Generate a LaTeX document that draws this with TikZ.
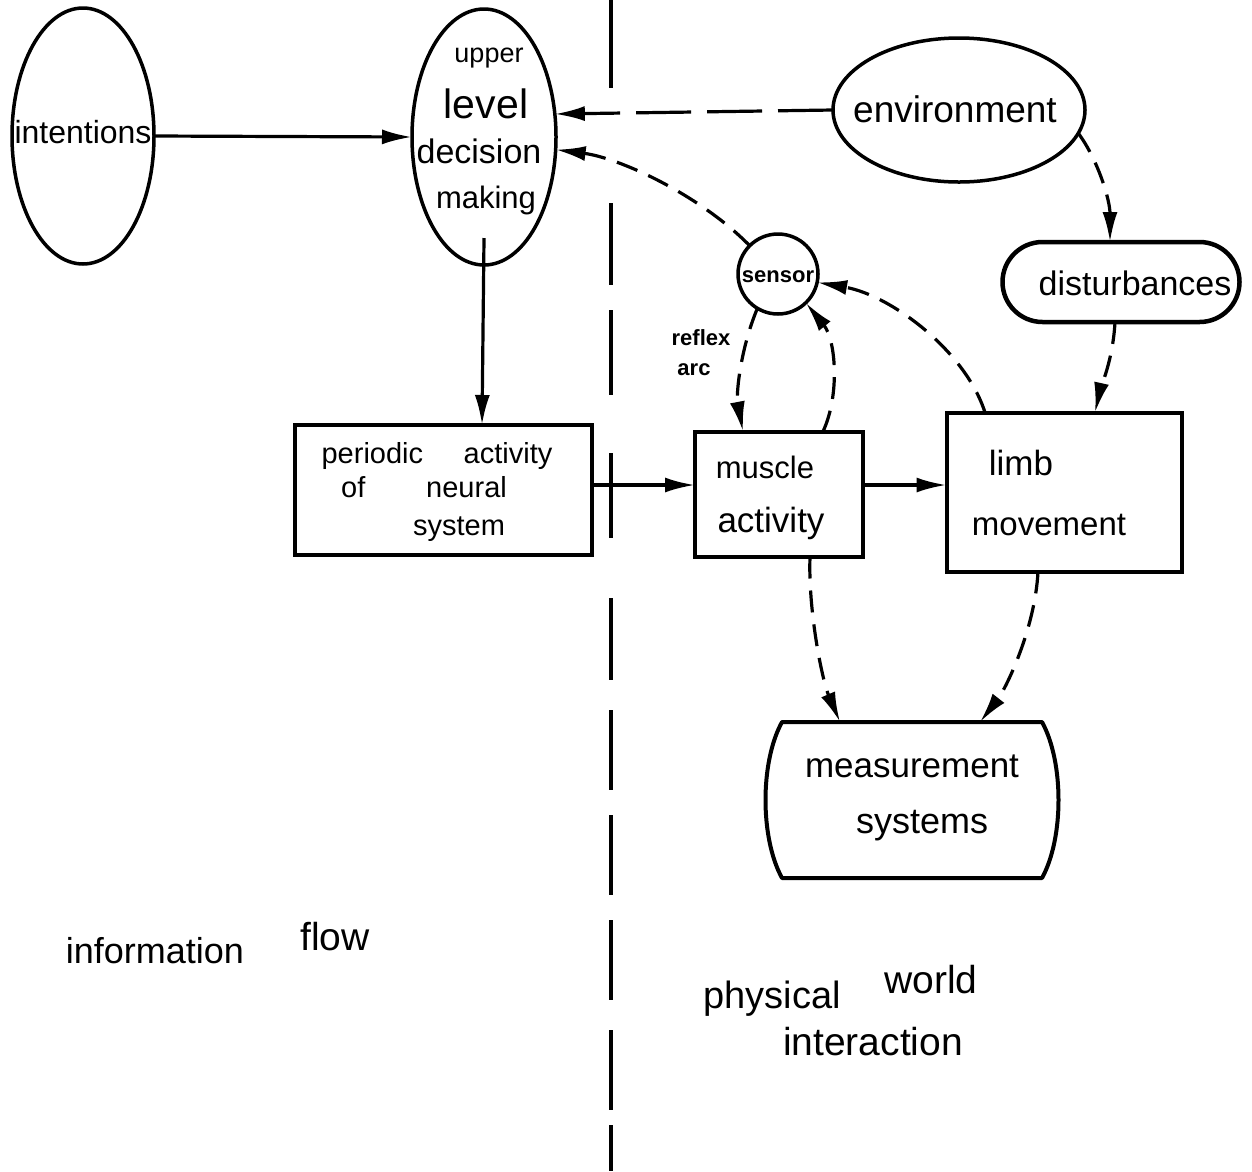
\documentclass[tikz,border=0pt]{standalone}
\usepackage{fontspec}
\setmainfont{Liberation Sans}
\usetikzlibrary{shapes.geometric,arrows.meta}
\begin{document}
\begin{tikzpicture}[x=1pt,y=-1pt,
  every node/.style={inner sep=0pt,outer sep=0pt},
  oval/.style={ellipse,draw,line width=3.5pt},
  boxnode/.style={rectangle,draw,line width=4pt},
  lbl/.style={anchor=base},
  fs/.style={font=\fontsize{#1}{#1}\selectfont},
  fsb/.style={font=\fontsize{#1}{#1}\selectfont\bfseries},
  conn/.style={line width=3.2pt,-{Latex[length=30pt,width=15pt]}},
  dconn/.style={conn,dash pattern=on 22pt off 12pt},
  divider/.style={line width=3.5pt},
]
\useasboundingbox[fill=white] (0,0) rectangle (1252,1171);

% divider
\foreach \a/\b in {0/88,203/285,310/395,453/538,598/680,710/790,815/895,920/1000,1030/1110,1125/1171}
  \draw[divider] (611,\a) -- (611,\b);

% shapes
\node[oval,minimum width=142pt,minimum height=256pt] (int) at (83,136) {};
\node[oval,minimum width=144pt,minimum height=256pt] (upper) at (484,137) {};
\node[oval,minimum width=252pt,minimum height=144pt] (env) at (959,110) {};
\node[circle,draw,line width=3.5pt,minimum size=80pt] (sensor) at (778,274) {};
\node[rectangle,draw,line width=4.5pt,rounded corners=40pt,minimum width=237pt,minimum height=80pt] (dis) at (1121,282) {};
\node[boxnode,minimum width=297pt,minimum height=130pt] (per) at (443,490) {};
\node[boxnode,minimum width=168pt,minimum height=125pt] (mus) at (779,494) {};
\node[boxnode,minimum width=235pt,minimum height=159pt] (limb) at (1064,492) {};
\node[minimum width=260pt,minimum height=156pt] (meas) at (912,800) {};
\draw[line width=4pt,line join=round] (meas.north west) -- (meas.north east)
  .. controls +(22,40) and +(22,-40) .. (meas.south east) -- (meas.south west)
  .. controls +(-22,-40) and +(-22,40) .. (meas.north west) -- cycle;

% texts
\node[lbl,fs=32] (tint) at (83,143) {intentions};
\node[lbl,fs=27] (tup1) at (489,62) {upper};
\node[lbl,fs=41] (tup2) at (486,118) {level};
\node[lbl,fs=34] (tup3) at (479,163) {decision};
\node[lbl,fs=31] (tup4) at (486,208) {making};
\node[lbl,fs=37] (tenv) at (955,122) {environment};
\node[lbl,fs=34] (tdis) at (1135,295) {disturbances};
\node[lbl,fsb=22] (tsen) at (778,282) {sensor};
\node[lbl,fsb=22] (tref1) at (701,345) {reflex};
\node[lbl,fsb=22] (tref2) at (694,375) {arc};
\node[lbl,fs=29] (tper1) at (437,463) {periodic\hspace{1.4em}activity};
\node[lbl,fs=29] (tper2) at (424,497) {of\hspace{2.1em}neural};
\node[lbl,fs=29] (tper3) at (459,535) {system};
\node[lbl,fs=31] (tmus1) at (765,478) {muscle};
\node[lbl,fs=35] (tmus2) at (771,532) {activity};
\node[lbl,fs=35] (tlim1) at (1021,475) {limb};
\node[lbl,fs=33] (tlim2) at (1049,535) {movement};
\node[lbl,fs=35] (tmea1) at (912,777) {measurement};
\node[lbl,fs=36] (tmea2) at (922,833) {systems};
\node[lbl,fs=36] (tinf1) at (155,963) {information};
\node[lbl,fs=39] (tinf2) at (335,950) {flow};
\node[lbl,fs=38] (tphy1) at (772,1008) {physical};
\node[lbl,fs=39] (tphy2) at (931,993) {world};
\node[lbl,fs=39] (tphy3) at (873,1055) {interaction};

% connectors
\draw[conn] (int.east) -- (upper.west);
\draw[conn] ([yshift=27pt]upper.south) -- ([xshift=39pt]per.north);
\draw[conn] ([yshift=5pt]per.east) -- ([yshift=9pt]mus.west);
\draw[conn] ([yshift=9pt]mus.east) -- ([yshift=7pt]limb.west);
\draw[conn,dash pattern=on 55pt off 16pt] (env.west) -- (upper.18);
\draw[dconn] (sensor.135) .. controls (700,195) and (620,158) .. (upper.-10);
\draw[dconn] (env.-11) .. controls (1098,160) and (1110,200) .. ([xshift=-11pt]dis.north);
\draw[dconn] ([xshift=-6pt]dis.south) .. controls (1113,360) and (1100,390) .. ([xshift=31pt]limb.north);
\draw[dconn] (sensor.239) .. controls (740,350) and (736,395) .. ([xshift=-36pt]mus.north);
\draw[dconn] ([xshift=44pt]mus.north) .. controls (840,395) and (836,340) .. (sensor.-46);
\draw[dconn] ([xshift=-79pt]limb.north) .. controls (965,350) and (890,295) .. (sensor.-12);
\draw[dconn] ([xshift=31pt]mus.south) .. controls (808,610) and (822,680) .. ([xshift=-72pt]meas.north);
\draw[dconn] ([xshift=-26pt]limb.south) .. controls (1035,630) and (1005,690) .. ([xshift=68pt]meas.north);
\end{tikzpicture}
\end{document}
